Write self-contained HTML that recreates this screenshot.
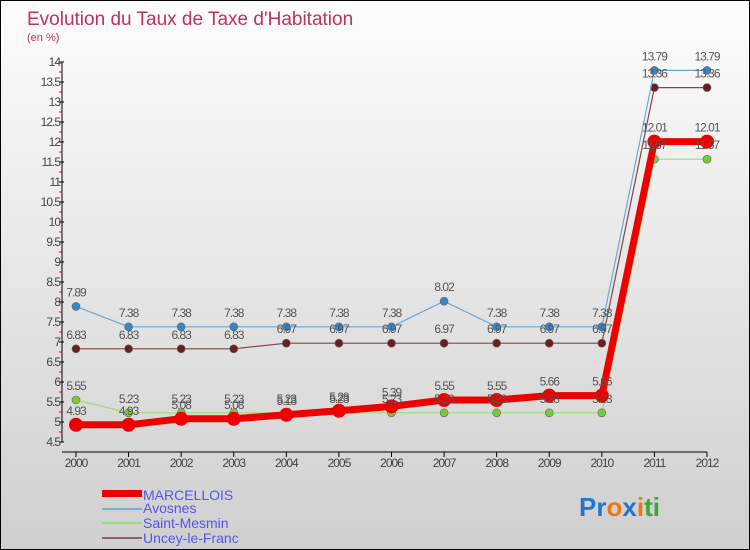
<!DOCTYPE html>
<html><head><meta charset="utf-8"><style>
body{margin:0;}
#wrap{width:750px;height:550px;position:relative;background:linear-gradient(#fdfdfd,#cfcfcf);box-sizing:border-box;border:1px solid #000;font-family:"Liberation Sans",sans-serif;overflow:hidden}
svg{position:absolute;left:0;top:0}
</style></head><body>
<div id="wrap">
<svg id="chart" width="750" height="550">
<text x="26" y="24" font-size="19" fill="#c0305a">Evolution du Taux de Taxe d'Habitation</text>
<text x="26" y="40" font-size="11" fill="#c0305a">(en %)</text>
<g id="axes"></g><g id="series"></g><g id="labels"></g>
<g>
<rect x="101" y="489" width="40" height="7" fill="#e00"/>
<text x="142" y="499" font-size="14" fill="#5555ee">MARCELLOIS</text>
<line x1="101" y1="508" x2="141" y2="508" stroke="#7aaecc" stroke-width="2"/>
<text x="142" y="512" font-size="14" fill="#5555ee">Avosnes</text>
<line x1="101" y1="522" x2="141" y2="522" stroke="#99dd77" stroke-width="2"/>
<text x="142" y="527" font-size="14" fill="#5555ee">Saint-Mesmin</text>
<line x1="101" y1="537" x2="141" y2="537" stroke="#886666" stroke-width="2"/>
<text x="142" y="542" font-size="14" fill="#5555ee">Uncey-le-Franc</text>
</g>
<text x="578" y="515" font-size="26" font-weight="bold"><tspan fill="#2277cc">Pr</tspan><tspan fill="#ee7711">o</tspan><tspan fill="#2277cc">x</tspan><tspan fill="#ee7711">i</tspan><tspan fill="#33aa33">ti</tspan></text>
</svg>
</div>
<script>
const years=[2000,2001,2002,2003,2004,2005,2006,2007,2008,2009,2010,2011,2012];
const marcellois=[4.93,4.93,5.08,5.08,5.18,5.28,5.39,5.55,5.55,5.66,5.66,12.01,12.01];
const avosnes=[7.89,7.38,7.38,7.38,7.38,7.38,7.38,8.02,7.38,7.38,7.38,13.79,13.79];
const saintMesmin=[5.55,5.23,5.23,5.23,5.23,5.23,5.23,5.23,5.23,5.23,5.23,11.57,11.57];
const uncey=[6.83,6.83,6.83,6.83,6.97,6.97,6.97,6.97,6.97,6.97,6.97,13.36,13.36];
const yTicks=[4.5,5,5.5,6,6.5,7,7.5,8,8.5,9,9.5,10,10.5,11,11.5,12,12.5,13,13.5,14];
const NS="http://www.w3.org/2000/svg";
const xS=i=>75+i*(706-75)/(years.length-1);
const yS=v=>441-(v-4.5)*40;
function mk(t,a,p){const e=document.createElementNS(NS,t);for(const k in a)e.setAttribute(k,a[k]);p.appendChild(e);return e;}
const ax=document.getElementById('axes');
let l=mk('line',{x1:61,y1:yS(14),x2:61,y2:yS(4.5),stroke:'#000'},ax);


l=mk('line',{x1:61,y1:451,x2:706,y2:451,stroke:'#000'},ax);


yTicks.forEach(v=>{
 mk('line',{x1:58,x2:63,y1:yS(v),y2:yS(v),stroke:'#000'},ax);
 if(v<14) mk('line',{x1:58,x2:61,y1:yS(v+0.25),y2:yS(v+0.25),stroke:'#e00'},ax);
 const t=mk('text',{x:59,y:yS(v)+4,'font-size':12,'text-anchor':'end',fill:'#444','letter-spacing':'-1'},ax);
 t.textContent=String(v);
 
 
});
years.forEach((y,i)=>{
 mk('line',{x1:xS(i),x2:xS(i),y1:451,y2:456,stroke:'#000'},ax);
 const t=mk('text',{x:xS(i),y:466,'font-size':12,'text-anchor':'middle',fill:'#444','letter-spacing':'-1'},ax);
 t.textContent=String(y);
 
 
});
const sg=document.getElementById('series'),lg=document.getElementById('labels');
function draw(data,color,w,r,name,mcol){
 const pts=data.map((v,i)=>xS(i)+','+yS(v)).join(' ');
 const pl=mk('polyline',{points:pts,fill:'none',stroke:color,'stroke-width':w},sg);
 
 
 data.forEach((v,i)=>{
  const c=mk('circle',{cx:xS(i),cy:yS(v),r:r,fill:mcol,stroke:'#666','stroke-width':r>6?0:0.6},sg);
  
  
  const t=mk('text',{x:xS(i),y:yS(v)-10,'font-size':12,'text-anchor':'middle',fill:'#555','letter-spacing':'-1'},lg);
  t.textContent=v.toFixed(2).replace(/0$/,'').replace('.','.');
  
  
 });
}
draw(uncey,'#884444',1.2,4,'uncey-le-franc','#6a1f1f');
draw(saintMesmin,'#99dd77',1.2,4,'saint-mesmin','#77cc33');
draw(avosnes,'#6aa8d8',1.2,4,'avosnes','#3388cc');
draw(marcellois,'#ee0000',7,7,'marcellois','#ee0000');
</script>
</body></html>
